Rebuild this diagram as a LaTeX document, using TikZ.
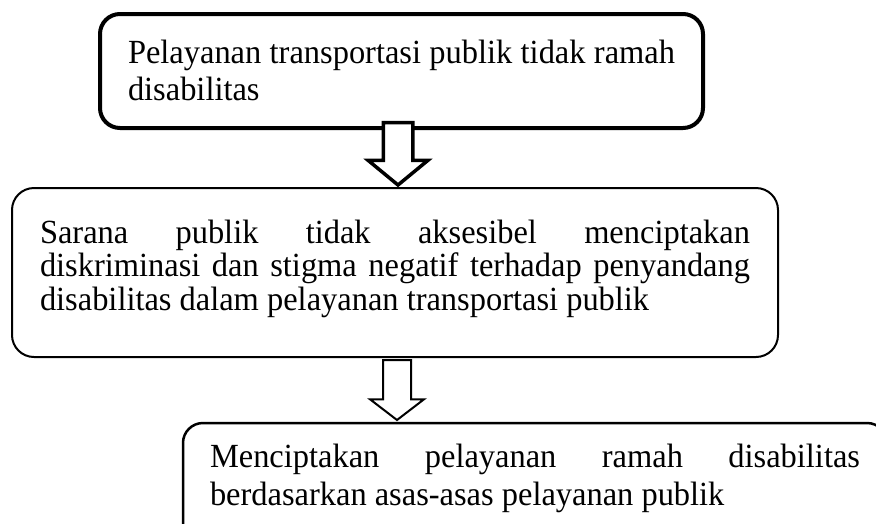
\documentclass[tikz,border=0pt]{standalone}
\usepackage{fontspec}
\setmainfont{Liberation Serif}[FakeStretch=0.96]
\usetikzlibrary{shapes.arrows}

\begin{document}
\begin{tikzpicture}[
  x=1pt, y=-1pt,
  font=\fontsize{33.8}{37}\selectfont,
  box/.style={draw, rounded corners=20pt, anchor=north west, align=justify, inner xsep=28pt, inner ysep=0pt, outer sep=0pt},
  blockarr/.style={single arrow, draw, fill=white, rotate=-90, anchor=tip, inner sep=0pt, outer sep=0pt}
]
  \useasboundingbox (0,0) rectangle (876,523);
  \clip (0,0) rectangle (876,523);

  \node[box, line width=4pt, text width=547pt, text height=49pt, text depth=65pt] (problem) at (100,14)
    {Pelayanan transportasi publik tidak ramah\linebreak disabilitas};
  \node[box, line width=2pt, rounded corners=22pt, text width=710pt, text height=55pt, text depth=114pt,
    font=\fontsize{33.8}{33.5}\selectfont] (impact) at (12,188)
    {Sarana publik tidak aksesibel menciptakan\linebreak diskriminasi dan stigma negatif terhadap penyandang\linebreak disabilitas dalam pelayanan transportasi publik};
  \node[box, line width=2.5pt, inner xsep=27pt, text width=650pt, text height=44pt, text depth=78pt,
    font=\fontsize{33.8}{38}\selectfont] (goal) at (183,423)
    {Menciptakan pelayanan ramah disabilitas\linebreak berdasarkan asas-asas pelayanan publik};

  \node[blockarr, line width=3.5pt, inner ysep=13pt, minimum height=62.5pt,
    single arrow head extend=15pt, single arrow tip angle=101] (arr1) at (398,185) {};
  \node[blockarr, line width=2pt, inner ysep=13pt, minimum height=60pt,
    single arrow head extend=13pt, single arrow tip angle=105] (arr2) at (397,420) {};
\end{tikzpicture}
\end{document}
